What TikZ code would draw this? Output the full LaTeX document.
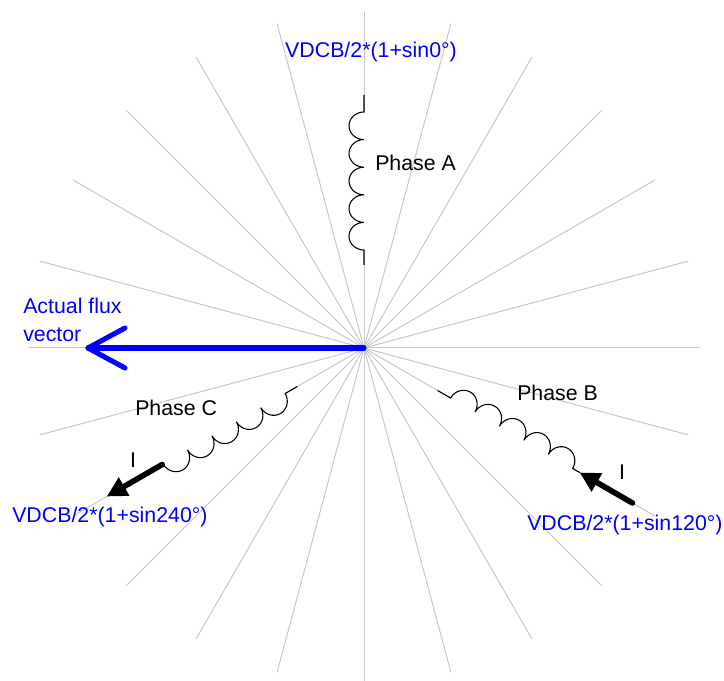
\documentclass[tikz,border=0pt]{standalone}
\usepackage{fontspec}
\setmainfont{Liberation Sans}
\usetikzlibrary{arrows.meta}
\definecolor{raygray}{RGB}{200,200,200}
\definecolor{fluxblue}{RGB}{0,0,255}
\tikzset{
  ray/.style={draw=raygray, line width=0.75pt},
  coilwire/.style={draw=black, line width=0.8pt},
  coilmask/.style={draw=white, line width=2.2pt},
  currentarrow/.style={draw=black, line width=4.2pt, line cap=round,
    -{Triangle[length=15pt,width=15pt]}},
  fluxline/.style={draw=fluxblue, line width=3.8pt, line cap=round},
  blacklabel/.style={inner sep=0pt, font=\fontsize{16}{19}\selectfont, text=black},
  bluelabel/.style={inner sep=0pt, font=\fontsize{16}{19}\selectfont, text=fluxblue},
}
\begin{document}
\begin{tikzpicture}[x=0.75pt,y=0.75pt]
\useasboundingbox (-364,-333) rectangle (360,348);
\clip (-364,-333) rectangle (360,348);
\fill[white] (-364,-333) rectangle (360,348);
\coordinate (O) at (0,0);
% radial lines
\foreach \a in {0,15,...,345} \draw[ray] (O) -- (\a:336);
% Phase A coil (up)
\begin{scope}[rotate=90]
  \draw[coilmask] (98,0) -- (236,0);
  \draw[coilwire] (83,0) -- (98,0)
    \foreach \i in {1,...,5} { arc[start angle=180,end angle=0,x radius=13.8,y radius=15] }
    -- (253,0);
\end{scope}
% Phase B coil (down-right)
\begin{scope}[rotate=-30]
  \draw[coilmask] (100,0) -- (241,0);
  \draw[coilwire] (85,0) -- (100,0)
    \foreach \i in {1,...,5} { arc[start angle=180,end angle=0,x radius=14.1,y radius=15] }
    -- (249,0);
  \coordinate (Btail) at (310,0);
  \coordinate (Btip) at (249,0);
\end{scope}
% Phase C coil (down-left)
\begin{scope}[rotate=210]
  \draw[coilmask] (91,0) -- (232,0);
  \draw[coilwire] (77,0) -- (91,0)
    \foreach \i in {1,...,5} { arc[start angle=180,end angle=0,x radius=14.1,y radius=15] };
  \coordinate (Ctail) at (233,0);
  \coordinate (Ctip) at (297,0);
\end{scope}
% current arrows
\draw[currentarrow] (Btail) -- (Btip);
\draw[currentarrow] (Ctail) -- (Ctip);
% flux vector
\coordinate (Ftip) at (-276,0);
\coordinate (Farm1) at (-239,20);
\coordinate (Farm2) at (-239,-20);
\draw[fluxline] (O) -- (Ftip);
\draw[fluxline, line join=round] (Farm1) -- (Ftip) -- (Farm2);
% labels
\node[bluelabel] (vA) at (7,296) {VDCB/2*(1+sin0°)};
\node[blacklabel, anchor=west] (pA) at (11,185) {Phase A};
\node[blacklabel, anchor=west] (pB) at (153,-45) {Phase B};
\node[blacklabel, anchor=west] (pC) at (-229,-60) {Phase C};
\node[blacklabel] (iC) at (-231,-112) {I};
\node[blacklabel] (iB) at (258,-124) {I};
\node[bluelabel, anchor=west] (vC) at (-352,-169) {VDCB/2*(1+sin240°)};
\node[bluelabel, anchor=west] (vB) at (163,-177) {VDCB/2*(1+sin120°)};
\node[bluelabel, anchor=west] (f1) at (-341,42) {Actual flux};
\node[bluelabel, anchor=west] (f2) at (-341,13) {vector};
\end{tikzpicture}
\end{document}
